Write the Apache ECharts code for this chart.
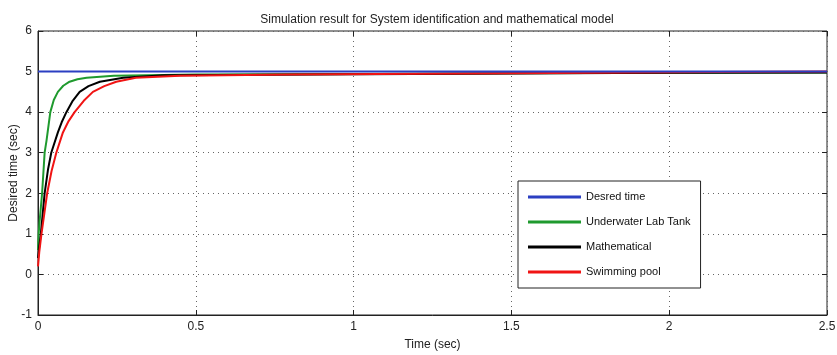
<!DOCTYPE html>
<html>
<head>
<meta charset="utf-8">
<script src="https://cdn.jsdelivr.net/npm/echarts@6/dist/echarts.min.js"></script>
<style>
  html, body { margin: 0; padding: 0; background: #fff; }
  #main { width: 837px; height: 355px; }
</style>
</head>
<body>
<div id="main"></div>
<script>
// 读图得到的数据
const seriesNames = ['Desred time', 'Underwater Lab Tank', 'Mathematical', 'Swimming pool'];
const desiredT = [0, 2.5];
const desiredY = [5, 5];
const tankT = [0, 0.002, 0.005, 0.013, 0.021, 0.027, 0.039, 0.05, 0.063, 0.08, 0.1, 0.125, 0.154, 0.24, 0.5, 1, 1.5, 2, 2.5];
const tankY = [0.6, 1.0, 1.3, 2.0, 3.0, 3.3, 4.0, 4.3, 4.5, 4.65, 4.75, 4.81, 4.85, 4.9, 4.93, 4.94, 4.96, 4.97, 4.98];
const mathT = [0, 0.004, 0.009, 0.021, 0.032, 0.042, 0.063, 0.075, 0.09, 0.11, 0.132, 0.16, 0.196, 0.27, 0.4, 0.87, 1.5, 2, 2.5];
const mathY = [0.4, 0.7, 1.0, 2.0, 2.6, 3.0, 3.5, 3.75, 4.0, 4.28, 4.5, 4.64, 4.75, 4.85, 4.91, 4.93, 4.95, 4.97, 4.98];
const poolT = [0, 0.004, 0.011, 0.02, 0.029, 0.043, 0.058, 0.079, 0.097, 0.116, 0.145, 0.174, 0.21, 0.248, 0.31, 0.45, 0.8, 1.5, 2.15, 2.5];
const poolY = [0.2, 0.55, 1.0, 1.5, 2.0, 2.55, 3.0, 3.5, 3.78, 4.0, 4.28, 4.5, 4.64, 4.75, 4.85, 4.9, 4.93, 4.96, 4.99, 5.0];
const xTicks = { min: 0, max: 2.5, interval: 0.5 };
const yTicks = { min: -1, max: 6, interval: 1 };

function pairs(ts, ys) {
  return ts.map((t, i) => [t, ys[i]]);
}

const chartDom = document.getElementById('main');
const myChart = echarts.init(chartDom);

const font = 'Liberation Sans';
const lineItem = (name, color, ts, ys, z) => ({
  name: name,
  type: 'line',
  data: pairs(ts, ys),
  showSymbol: false,
  symbol: 'none',
  z: z,
  lineStyle: { color: color, width: 2 },
  itemStyle: { color: color },
});

const option = {
  animation: false,
  title: {
    text: 'Simulation result for System identification and mathematical model',
    left: 432,
    top: 9,
    textAlign: 'center',
    textStyle: { fontFamily: font, fontSize: 12, fontWeight: 'normal', color: '#222' },
  },
  grid: {
    left: 38,
    right: 10,
    top: 31,
    bottom: 40,
    outerBoundsMode: 'none',
    containLabel: false,
    show: true,
    borderColor: '#222',
    borderWidth: 1,
  },
  legend: {
    orient: 'vertical',
    left: 518,
    top: 181,
    width: 212,
    padding: [9, 10, 9, 10],
    itemWidth: 53,
    itemHeight: 3,
    itemGap: 11,
    icon: 'rect',
    borderColor: '#222',
    borderWidth: 1,
    backgroundColor: '#fff',
    textStyle: { fontFamily: font, fontSize: 11, color: '#111', lineHeight: 14 },
    data: seriesNames,
  },
  xAxis: [
    {
      type: 'value',
      min: xTicks.min,
      max: xTicks.max,
      interval: xTicks.interval,
      name: 'Time (sec)',
      nameLocation: 'middle',
      nameGap: 24,
      nameMoveOverlap: false,
      nameTextStyle: { fontFamily: font, fontSize: 12, color: '#222' },
      axisLine: { show: true, onZero: false, lineStyle: { color: '#222' } },
      axisTick: { show: true, inside: true, length: 5, lineStyle: { color: '#222' } },
      axisLabel: { fontFamily: font, fontSize: 12, color: '#222', margin: 6 },
      splitLine: { show: true, lineStyle: { color: '#666', type: [1, 4], width: 1 } },
    },
    {
      type: 'value',
      position: 'top',
      min: xTicks.min,
      max: xTicks.max,
      interval: xTicks.interval,
      axisLine: { show: false, onZero: false },
      axisTick: { show: true, inside: true, length: 5, lineStyle: { color: '#222' } },
      axisLabel: { show: false },
      splitLine: { show: false },
    },
  ],
  yAxis: [
    {
      type: 'value',
      min: yTicks.min,
      max: yTicks.max,
      interval: yTicks.interval,
      name: 'Desired time (sec)',
      nameLocation: 'middle',
      nameGap: 18,
      nameMoveOverlap: false,
      nameTextStyle: { fontFamily: font, fontSize: 12, color: '#222' },
      axisLine: { show: true, onZero: false, lineStyle: { color: '#222' } },
      axisTick: { show: true, inside: true, length: 5, lineStyle: { color: '#222' } },
      axisLabel: { fontFamily: font, fontSize: 12, color: '#222', margin: 6 },
      splitLine: { show: true, lineStyle: { color: '#666', type: [1, 4], width: 1 } },
    },
    {
      type: 'value',
      position: 'right',
      min: yTicks.min,
      max: yTicks.max,
      interval: yTicks.interval,
      axisLine: { show: false, onZero: false },
      axisTick: { show: true, inside: true, length: 5, lineStyle: { color: '#222' } },
      axisLabel: { show: false },
      splitLine: { show: false },
    },
  ],
  series: [
    lineItem(seriesNames[0], '#2b3fc2', desiredT, desiredY, 5),
    lineItem(seriesNames[1], '#1f9a2e', tankT, tankY, 2),
    lineItem(seriesNames[2], '#000000', mathT, mathY, 3),
    lineItem(seriesNames[3], '#f01414', poolT, poolY, 4),
  ],
};

myChart.setOption(option);
</script>
</body>
</html>
